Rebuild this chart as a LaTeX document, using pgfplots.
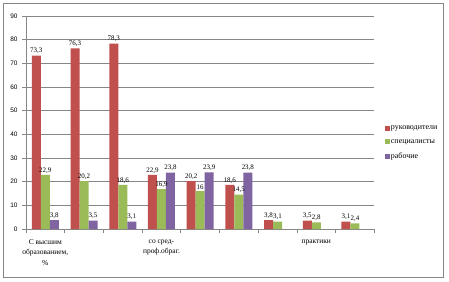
\documentclass[border=0pt]{standalone}
\usepackage{fontspec}
\setmainfont{Liberation Serif}
\newfontfamily\sansnum{Liberation Sans}
\usepackage{pgfplots}
\pgfplotsset{compat=1.18}
\definecolor{cR}{HTML}{C0504D}
\definecolor{cG}{HTML}{9BBB59}
\definecolor{cP}{HTML}{8064A2}
\definecolor{gridc}{HTML}{868686}
\begin{document}
\begin{tikzpicture}[x=1bp,y=1bp]
\path (0,0) rectangle (449,281);
\draw[gridc, line width=0.8bp] (3,4) rectangle (443,278);
\begin{axis}[
  at={(26bp,52bp)}, anchor=south west,
  scale only axis, width=348.3bp, height=213bp,
  ybar=0pt, bar width=9bp,
  xmin=-0.5, xmax=8.5, ymin=0, ymax=90,
  ytick={0,10,20,30,40,50,60,70,80,90},
  ymajorgrids, grid style={gridc, line width=0.7bp},
  axis x line*=bottom, axis y line*=left,
  axis line style={gridc, line width=0.8bp},
  tick style={gridc, line width=0.7bp},
  tick align=outside, major tick length=4bp,
  xtick={-0.5,0.5,1.5,2.5,3.5,4.5,5.5,6.5,7.5,8.5},
  xticklabels={},
  extra x ticks={0,3,7},
  extra x tick labels={{С высшим\\образованием,\\\%},{со сред-\\проф.обраг.},{практики}},
  extra x tick style={major tick length=0pt, grid=none,
     xticklabel style={align=center, font=\fontsize{7.5}{10.5}\selectfont, yshift=-7bp}},
  yticklabel style={font=\sansnum\fontsize{6.5}{7}\selectfont, xshift=-1bp},
  /pgf/number format/assume math mode=true,
  /pgf/number format/use comma,
  nodes near coords,
  nodes near coords style={font=\fontsize{7}{8}\selectfont, inner sep=1.5bp, black},
  legend style={draw=none, fill=none, at={(1.03,0.404)}, anchor=west,
     font=\fontsize{8}{8.5}\selectfont, row sep=6.5bp, inner sep=0pt,
     nodes={inner sep=1bp}},
  legend cell align=left,
  legend image code/.code={\fill[#1] (0bp,-2.5bp) rectangle (5bp,2.5bp);},
  clip=false,
]
\addplot[fill=cR, draw=none] coordinates {(0,73.3) (1,76.3) (2,78.3) (3,22.9) (4,20.2) (5,18.6) (6,3.8) (7,3.5) (8,3.1)};
\addplot[fill=cG, draw=none] coordinates {(0,22.9) (1,20.2) (2,18.6) (3,16.9) (4,16) (5,14.5) (6,3.1) (7,2.8) (8,2.4)};
\addplot[fill=cP, draw=none] coordinates {(0,3.8) (1,3.5) (2,3.1) (3,23.8) (4,23.9) (5,23.8)};
\legend{руководители, специалисты, рабочие}
\end{axis}
\end{tikzpicture}
\end{document}
